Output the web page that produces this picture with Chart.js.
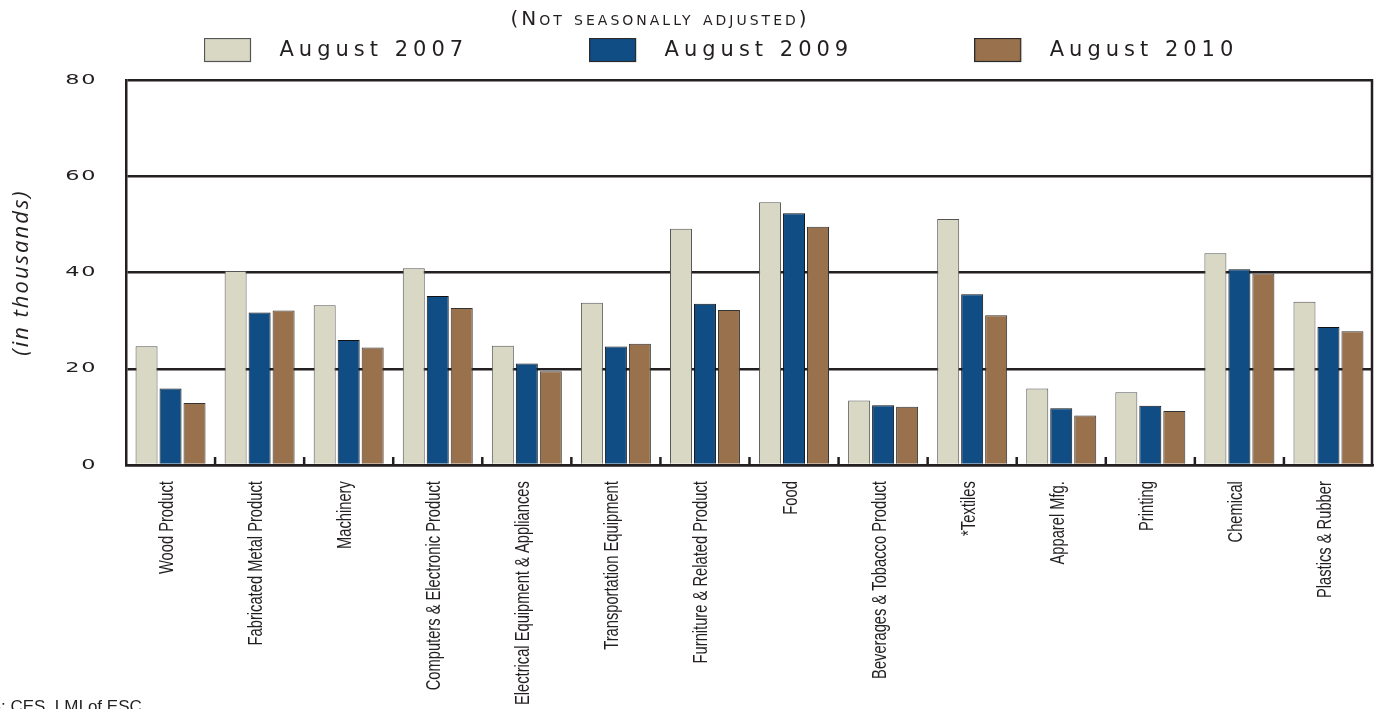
<!DOCTYPE html>
<html>
<head>
<meta charset="utf-8">
<script src="https://cdn.jsdelivr.net/npm/chart.js@4.4.1/dist/chart.umd.min.js"></script>
<style>
html,body{margin:0;padding:0;background:#ffffff;}
#wrap{width:1378px;height:709px;position:relative;overflow:hidden;}
canvas{display:block;}
</style>
</head>
<body>
<div id="wrap"><canvas id="c" width="1378" height="709"></canvas></div>
<script>
// ---------- data ----------
const categories = [
  'Wood Product', 'Fabricated Metal Product', 'Machinery', 'Computers & Electronic Product',
  'Electrical Equipment & Appliances', 'Transportation Equipment', 'Furniture & Related Product',
  'Food', 'Beverages & Tobacco Product', '*Textiles', 'Apparel Mfg.', 'Printing', 'Chemical',
  'Plastics & Rubber'
];
const seriesLabels = ['August 2007', 'August 2009', 'August 2010'];
const aug2007 = [24.7, 40.3, 33.2, 40.9, 24.8, 33.7, 49.1, 54.6, 13.4, 51.1, 15.9, 15.1, 44.0, 33.9];
const aug2009 = [15.9, 31.7, 26.0, 35.1, 21.1, 24.6, 33.5, 52.3, 12.4, 35.5, 11.8, 12.3, 40.7, 28.7];
const aug2010 = [12.9, 32.1, 24.4, 32.6, 19.5, 25.2, 32.2, 49.5, 12.1, 31.1, 10.3, 11.2, 39.8, 27.8];
const yTicks = [0, 20, 40, 60, 80];
const chartTitle = '(Not seasonally adjusted)';
const yAxisTitle = '(in thousands)';
const sourceNote = 'Source: CES, LMI of ESC';

// ---------- styles ----------
const INK = '#231f20';
const fills = ['#d9d8c4', '#0f4d84', '#99714c'];
const edges = ['#555555', '#111111', '#333333'];

const LEGEND_LS = '5px';
const TITLE_LS = '3px';
const YTICK_LS = '1px';
const YTITLE_LS = '2px';
const LEGEND_X0 = 204;
const LEGEND_ROW_Y = 40;
const LEGEND_H = 47;
const TITLE_CX = 660;
const XLABEL_SQUEEZE = 0.735;
const YTICK_STRETCH = 1.6;

// legend swatch images: box 47x24 on a 65px wide transparent tile
function swatch(fill, edge) {
  const cv = document.createElement('canvas');
  cv.width = 65; cv.height = 25;
  const g = cv.getContext('2d');
  g.fillStyle = fill;
  g.fillRect(0.5, 0.5, 46, 23);
  g.strokeStyle = edge; g.lineWidth = 1.2;
  g.strokeRect(0.5, 0.5, 46, 23);
  return cv;
}
const swatches = fills.map((f, i) => swatch(f, i === 0 ? '#555' : '#2a2a2a'));

function wrap(obj, name, before, after) {
  const orig = obj[name];
  obj[name] = function (...args) {
    const ctx = this.ctx;
    ctx.save();
    const saved = before ? before.call(this, ctx) : null;
    try { return orig.apply(this, args); }
    finally {
      ctx.restore();
      if (after) after.call(this, saved);
    }
  };
}

const tweaks = {
  id: 'tweaks',
  afterInit(chart) {
    const lg = chart.legend;
    if (lg && !lg._wrapped) {
      lg._wrapped = true;
      const origFit = lg.fit;
      lg.fit = function () {
        const ctx = this.ctx; const prev = ctx.letterSpacing;
        ctx.letterSpacing = LEGEND_LS;
        origFit.call(this);
        ctx.letterSpacing = prev;
        this.height = LEGEND_H;
      };
      wrap(lg, 'draw', function (ctx) {
        ctx.letterSpacing = LEGEND_LS;
        const p = this.options.labels.padding;
        const s = {l: this.left, r: this.right, t: this.top};
        const dx = LEGEND_X0 - (this.left + p + this.right - this.lineWidths[0]) / 2;
        const dy = LEGEND_ROW_Y - p - this.top;
        this.left += dx; this.right += dx; this.top += dy;
        return s;
      }, function (s) { this.left = s.l; this.right = s.r; this.top = s.t; });
    }
    const tb = chart.titleBlock;
    if (tb && !tb._wrapped) {
      tb._wrapped = true;
      wrap(tb, 'draw', function (ctx) {
        ctx.letterSpacing = TITLE_LS;
        const s = {l: this.left, r: this.right};
        const dx = TITLE_CX - (this.left + this.right) / 2;
        this.left += dx; this.right += dx;
        return s;
      }, function (s) { this.left = s.l; this.right = s.r; });
    }
  },
  beforeDraw(chart) {
    const y = chart.scales.y;
    if (y && !y._wrapped) {
      y._wrapped = true;
      wrap(y, 'drawLabels', function (ctx) {
        ctx.letterSpacing = YTICK_LS;
        const ax = this.right - this.options.ticks.padding;
        ctx.translate(ax, 0); ctx.scale(YTICK_STRETCH, 1); ctx.translate(-ax, 0);
      });
      wrap(y, 'drawTitle', function (ctx) { ctx.letterSpacing = YTITLE_LS; });
    }
    const x = chart.scales.x;
    if (x && !x._wrapped) {
      x._wrapped = true;
      wrap(x, 'drawLabels', function (ctx) {
        const b = this.top;
        ctx.translate(-3, b); ctx.scale(1, XLABEL_SQUEEZE); ctx.translate(0, -b);
        const s = this.bottom;
        this.bottom = b + (s - b) / XLABEL_SQUEEZE + 20;
        return s;
      }, function (s) { this.bottom = s; });
    }
  },
  afterDatasetsDraw(chart) {
    const ctx = chart.ctx, x = chart.scales.x, a = chart.chartArea;
    ctx.save();
    ctx.strokeStyle = INK;
    ctx.lineWidth = 2.5;
    ctx.beginPath();
    for (let i = 0; i < categories.length - 1; i++) {
      const px = (x.getPixelForTick(i) + x.getPixelForTick(i + 1)) / 2;
      ctx.moveTo(px, a.bottom - 8);
      ctx.lineTo(px, a.bottom);
    }
    ctx.moveTo(a.right - 1, a.top - 1);
    ctx.lineTo(a.right - 1, a.bottom);
    ctx.stroke();
    ctx.restore();
  },
  afterDraw(chart) {
    const ctx = chart.ctx;
    ctx.save();
    ctx.font = "17px 'Liberation Sans', Arial, sans-serif";
    ctx.fillStyle = INK;
    ctx.textBaseline = 'alphabetic';
    const hidden = ctx.measureText(sourceNote.split(':')[0]).width;
    ctx.fillText(sourceNote, 1 - hidden, 712);
    ctx.restore();
  }
};

const seriesValues = [aug2007, aug2009, aug2010];

new Chart(document.getElementById('c'), {
  type: 'bar',
  data: {
    labels: categories,
    datasets: seriesLabels.map((lab, i) => ({
      label: lab,
      data: seriesValues[i],
      backgroundColor: fills[i],
      borderColor: edges[i],
      borderWidth: 1,
      categoryPercentage: 0.808,
      barPercentage: 0.917
    }))
  },
  options: {
    responsive: false,
    animation: false,
    devicePixelRatio: 1,
    layout: { padding: { top: 0, left: 0, right: 5, bottom: 0 } },
    plugins: {
      title: {
        display: true,
        text: chartTitle,
        color: INK,
        font: { family: "'DejaVu Sans', sans-serif", size: 20, weight: 'small-caps', lineHeight: 1.2 },
        padding: { top: 8, bottom: 1 }
      },
      legend: {
        display: true,
        position: 'top',
        labels: {
          color: INK,
          font: { family: "'DejaVu Sans', sans-serif", size: 21, weight: 'normal' },
          usePointStyle: true,
          pointStyleWidth: 65,
          padding: 121,
          generateLabels(chart) {
            const items = Chart.defaults.plugins.legend.labels.generateLabels(chart);
            items.forEach((it, i) => { it.pointStyle = swatches[i]; });
            return items;
          }
        }
      },
      tooltip: { enabled: false }
    },
    scales: {
      x: {
        offset: true,
        grid: { display: true, drawOnChartArea: false, drawTicks: false },
        border: { display: true, color: INK, width: 2.5, z: 1 },
        ticks: {
          autoSkip: false,
          maxRotation: 90,
          minRotation: 90,
          padding: 22,
          color: INK,
          font: { family: "'Liberation Sans', Arial, sans-serif", size: 20 }
        },
        afterFit(s) { s.height = 244; }
      },
      y: {
        min: 0,
        max: 80,
        afterBuildTicks(s) { s.ticks = yTicks.map(v => ({ value: v })); },
        grid: { color: INK, lineWidth: 2.5, drawTicks: false },
        border: { display: true, color: INK, width: 2.5 },
        ticks: {
          padding: 29,
          color: INK,
          font: { family: "'DejaVu Sans', sans-serif", size: 14 }
        },
        title: {
          display: true,
          text: yAxisTitle,
          color: INK,
          font: { family: "'Open Sans', sans-serif", size: 22, style: 'italic' },
          padding: { top: 9, bottom: 0 }
        },
        afterFit(s) { s.width = 126; }
      }
    }
  },
  plugins: [tweaks]
});
</script>
</body>
</html>
